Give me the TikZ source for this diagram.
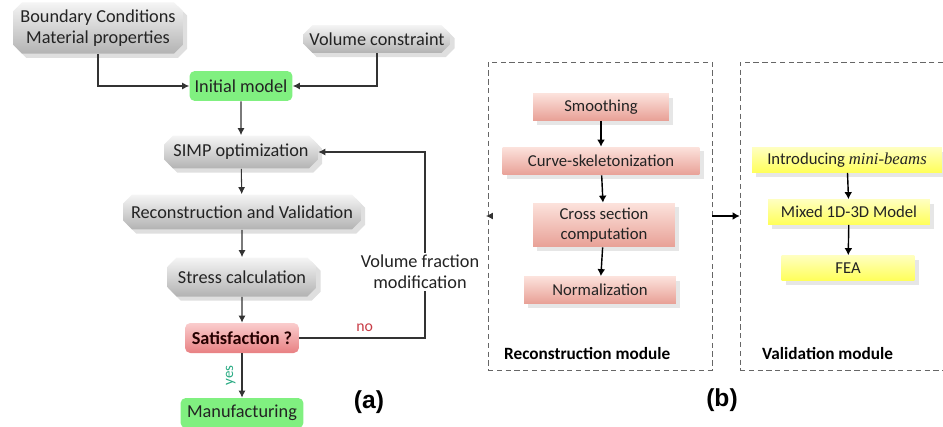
\documentclass[tikz,border=0pt]{standalone}
\usepackage{fontspec}
\setmainfont{Carlito}
\newfontfamily\labelfont{Liberation Sans}
\usetikzlibrary{arrows.meta,shapes.misc,shadows}
\definecolor{greenfill}{RGB}{128,240,128}
\definecolor{textgrey}{RGB}{35,35,35}
\definecolor{nored}{RGB}{200,60,70}
\definecolor{yesgreen}{RGB}{40,170,130}
\definecolor{salmontop}{RGB}{252,226,220}
\definecolor{salmonbot}{RGB}{232,160,150}
\definecolor{pinktop}{RGB}{250,205,205}
\definecolor{pinkbot}{RGB}{232,128,130}

\begin{document}
\begin{tikzpicture}[x=0.02cm, y=-0.02cm,
  greybox/.style={chamfered rectangle, chamfered rectangle xsep=2pt, top color=gray!8, bottom color=gray!60, draw=none, drop shadow={opacity=0.25}, text=textgrey, font=\fontsize{10.4}{12}\selectfont, inner sep=1pt, align=center},
  greenbox/.style={rounded corners=3pt, fill=greenfill, text=textgrey, font=\fontsize{10.4}{12}\selectfont, inner sep=1pt},
  redbox/.style={rounded corners=3pt, top color=pinktop, bottom color=pinkbot, text=black!85!red, font=\fontsize{10.4}{12}\selectfont\bfseries, inner sep=1pt},
  salmonbox/.style={top color=salmontop, bottom color=salmonbot, drop shadow={opacity=0.2}, text=textgrey, font=\fontsize{9.5}{11}\selectfont, inner sep=1pt, align=center},
  yellowbox/.style={top color=yellow!25, bottom color=yellow!65, drop shadow={opacity=0.2}, text=textgrey, font=\fontsize{9.5}{11}\selectfont, inner sep=1pt},
  module/.style={draw=black!60, densely dashed, thin, inner sep=0pt},
  arrow/.style={-{Latex[length=4pt,width=4pt]}, draw=black!80, semithick},
  barrow/.style={-{Latex[length=4pt,width=4.5pt]}, draw=black, thick}]

\useasboundingbox (0,0) rectangle (943,426);

% (a) topology optimization loop
\node[greybox, minimum width=3.4cm, minimum height=1.0cm] (bc) at (98,28) {Boundary Conditions\\Material properties};
\node[greybox, minimum width=2.94cm, minimum height=0.56cm] (vc) at (377,39) {Volume constraint};
\node[greenbox, minimum width=2.06cm, minimum height=0.6cm] (im) at (241,86) {Initial model};
\node[greybox, minimum width=3.08cm, minimum height=0.66cm] (simp) at (241,152) {SIMP optimization};
\node[greybox, minimum width=4.76cm, minimum height=0.7cm] (rv) at (242,212) {Reconstruction and Validation};
\node[greybox, minimum width=2.98cm, minimum height=0.78cm] (sc) at (242,277) {Stress calculation};
\node[redbox, minimum width=2.28cm, minimum height=0.6cm] (sat) at (242,338) {Satisfaction ?};
\node[greenbox, minimum width=2.46cm, minimum height=0.6cm] (man) at (242,413) {Manufacturing};
\coordinate (fb) at (425,338);

\draw[arrow] (bc.south) |- (im.west);
\draw[arrow] (vc.south) |- (im.east);
\draw[arrow] (im) -- (simp);
\draw[arrow] (simp) -- (rv);
\draw[arrow] (rv) -- (sc);
\draw[arrow] (sc) -- (sat);
\draw[arrow] (sat) -- node[rotate=90, anchor=south, text=yesgreen, font=\fontsize{8.5}{10}\selectfont] (yes) {yes} (man);
\draw[arrow] (sat.east) -- node[above, text=nored, font=\fontsize{9}{10}\selectfont, pos=0.52] (no) {no} (fb) |- (simp.east);
\node[fill=white, align=center, text=textgrey, font=\fontsize{10.4}{12}\selectfont, inner sep=1pt] (vf) at (420,272) {Volume fraction\\modification};
\node[font=\labelfont\fontsize{14}{16}\selectfont\bfseries] (la) at (369,402) {(a)};

% (b) reconstruction and validation modules
\node[module, minimum width=4.48cm, minimum height=6.16cm] (rmod) at (600,216) {};
\node[module, minimum width=4.4cm, minimum height=6.16cm] (vmod) at (850,216) {};
\node[salmonbox, minimum width=2.72cm, minimum height=0.54cm] (smooth) at (601,107) {Smoothing};
\node[salmonbox, minimum width=3.94cm, minimum height=0.56cm] (curve) at (601,161) {Curve-skeletonization};
\node[salmonbox, minimum width=2.84cm, minimum height=0.88cm] (cross) at (604,225) {Cross section\\computation};
\node[salmonbox, minimum width=3.04cm, minimum height=0.54cm] (norm) at (600,290) {Normalization};
\node[anchor=west, font=\fontsize{9.8}{11}\selectfont\bfseries] (rlab) at (498,354) {Reconstruction module};
\node[yellowbox, minimum width=3.8cm, minimum height=0.5cm] (intro) at (847,160) {Introducing \textit{\fontspec{Liberation Serif}mini-beams}};
\node[yellowbox, minimum width=3.24cm, minimum height=0.5cm] (mixed) at (849,212) {Mixed 1D-3D Model};
\node[yellowbox, minimum width=2.66cm, minimum height=0.5cm] (fea) at (848,268) {FEA};
\node[anchor=west, font=\fontsize{9.8}{11}\selectfont\bfseries] (vlab) at (756,354) {Validation module};
\node[font=\labelfont\fontsize{14}{16}\selectfont\bfseries] (lb) at (722,400) {(b)};

\draw[barrow] (smooth) -- (curve);
\draw[barrow] (curve) -- (cross);
\draw[barrow] (cross) -- (norm);
\draw[barrow] (intro) -- (mixed);
\draw[barrow] (mixed) -- (fea);
\draw[barrow] (rmod.east) -- (vmod.west);
\draw[arrow] ([xshift=3pt]rmod.west) -- ([xshift=-1pt]rmod.west);
\end{tikzpicture}
\end{document}
